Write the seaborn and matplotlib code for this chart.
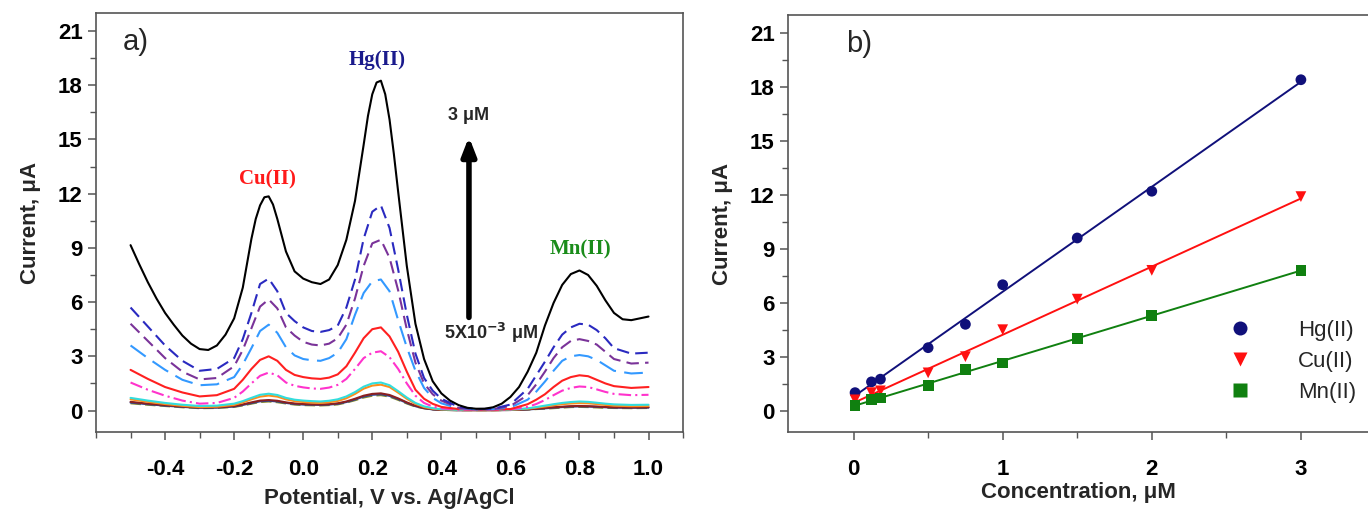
import numpy as np
import pandas as pd
import matplotlib
matplotlib.use("Agg")
import matplotlib.pyplot as plt
from matplotlib.ticker import MultipleLocator
import seaborn as sns

# ---------------- data: panel a (voltammograms) ----------------
# potential grid shared by the lower curves
potential = [-0.5, -0.45, -0.4, -0.35, -0.3, -0.25, -0.2, -0.175, -0.15, -0.125,
             -0.1, -0.075, -0.05, -0.025, 0.0, 0.025, 0.05, 0.075, 0.1, 0.125,
             0.15, 0.175, 0.2, 0.225, 0.25, 0.275, 0.3, 0.325, 0.35, 0.375,
             0.4, 0.45, 0.5, 0.55, 0.6, 0.65, 0.675, 0.7, 0.725, 0.75,
             0.775, 0.8, 0.825, 0.85, 0.875, 0.9, 0.95, 1.0]

# finer reading of the top (3 uM) curve
potential_3uM = [-0.5, -0.475, -0.45, -0.425, -0.4, -0.375, -0.35, -0.325, -0.3, -0.275,
                 -0.25, -0.225, -0.2, -0.175, -0.15, -0.1375, -0.125, -0.1125, -0.1, -0.0875,
                 -0.075, -0.0625, -0.05, -0.025, 0.0, 0.025, 0.05, 0.075, 0.1, 0.125,
                 0.15, 0.175, 0.1875, 0.2, 0.2125, 0.225, 0.2375, 0.25, 0.2625, 0.275,
                 0.3, 0.325, 0.35, 0.375, 0.4, 0.425, 0.45, 0.475, 0.5, 0.525,
                 0.55, 0.575, 0.6, 0.625, 0.65, 0.675, 0.7, 0.725, 0.75, 0.775,
                 0.8, 0.825, 0.85, 0.875, 0.9, 0.925, 0.95, 0.975, 1.0]
i_3uM = [9.15, 8.1, 7.1, 6.2, 5.4, 4.75, 4.15, 3.7, 3.4, 3.35,
         3.6, 4.2, 5.1, 6.8, 9.5, 10.6, 11.35, 11.8, 11.85, 11.4,
         10.6, 9.7, 8.8, 7.7, 7.3, 7.1, 7.0, 7.25, 8.05, 9.45,
         11.6, 14.7, 16.3, 17.5, 18.15, 18.25, 17.5, 16.1, 14.2, 12.1,
         8.0, 4.8, 2.85, 1.62, 0.95, 0.55, 0.3, 0.15, 0.1, 0.1,
         0.18, 0.38, 0.75, 1.3, 2.15, 3.2, 4.7, 5.95, 6.95, 7.55,
         7.75, 7.5, 6.9, 6.1, 5.4, 5.05, 5.0, 5.1, 5.2]

i_2uM = [5.7, 4.65, 3.6, 2.75, 2.2, 2.3, 2.9, 3.95, 5.4, 7.0,
         7.3, 6.6, 5.4, 4.95, 4.6, 4.4, 4.35, 4.45, 4.7, 5.7,
         7.25, 9.5, 11.0, 11.35, 10.1, 7.8, 5.3, 3.15, 1.8, 1.1,
         0.65, 0.2, 0.08, 0.1, 0.33, 1.2, 1.95, 2.7, 3.5, 4.2,
         4.6, 4.8, 4.75, 4.45, 4.0, 3.45, 3.15, 3.2]
i_1p5uM = [4.8, 3.85, 2.9, 2.15, 1.72, 1.8, 2.45, 3.35, 4.55, 5.75,
           6.15, 5.65, 4.6, 4.15, 3.8, 3.65, 3.6, 3.7, 4.0, 4.75,
           6.2, 8.0, 9.25, 9.45, 8.45, 6.65, 4.5, 2.65, 1.5, 0.9,
           0.55, 0.15, 0.07, 0.08, 0.25, 0.85, 1.45, 2.15, 2.9, 3.5,
           3.85, 3.95, 3.85, 3.65, 3.25, 2.85, 2.6, 2.65]
i_1uM = [3.6, 2.9, 2.25, 1.7, 1.4, 1.45, 1.85, 2.55, 3.45, 4.4,
         4.75, 4.3, 3.5, 3.05, 2.85, 2.78, 2.75, 2.9, 3.2, 3.95,
         5.3, 6.5, 7.15, 7.25, 6.6, 5.0, 3.5, 2.2, 1.25, 0.7,
         0.4, 0.12, 0.06, 0.07, 0.17, 0.6, 1.05, 1.6, 2.2, 2.75,
         3.0, 3.07, 3.0, 2.8, 2.5, 2.2, 2.05, 2.1]
i_0p75uM = [2.25, 1.75, 1.3, 1.0, 0.78, 0.85, 1.2, 1.7, 2.3, 2.8,
            3.0, 2.75, 2.25, 1.97, 1.85, 1.78, 1.75, 1.82, 2.0, 2.45,
            3.2, 4.0, 4.5, 4.6, 4.1, 3.25, 2.15, 1.15, 0.65, 0.37,
            0.2, 0.08, 0.05, 0.05, 0.08, 0.35, 0.6, 0.9, 1.3, 1.65,
            1.85, 1.95, 1.9, 1.7, 1.5, 1.35, 1.25, 1.3]
i_0p5uM = [1.55, 1.15, 0.82, 0.55, 0.38, 0.42, 0.7, 1.05, 1.5, 1.92,
           2.1, 1.95, 1.55, 1.37, 1.28, 1.22, 1.2, 1.27, 1.42, 1.75,
           2.3, 2.9, 3.2, 3.28, 2.95, 2.3, 1.5, 0.82, 0.42, 0.22,
           0.12, 0.05, 0.04, 0.04, 0.06, 0.2, 0.36, 0.58, 0.85, 1.1,
           1.25, 1.33, 1.3, 1.17, 1.03, 0.92, 0.85, 0.87]
i_0p18uM = [0.7, 0.55, 0.42, 0.32, 0.25, 0.27, 0.38, 0.52, 0.7, 0.87,
            0.93, 0.86, 0.7, 0.6, 0.55, 0.52, 0.5, 0.54, 0.62, 0.78,
            1.02, 1.32, 1.5, 1.55, 1.4, 1.07, 0.72, 0.42, 0.23, 0.13,
            0.07, 0.04, 0.03, 0.03, 0.05, 0.12, 0.19, 0.27, 0.35, 0.42,
            0.47, 0.5, 0.48, 0.43, 0.38, 0.34, 0.31, 0.32]
i_0p125uM = [0.62, 0.48, 0.36, 0.26, 0.19, 0.21, 0.31, 0.45, 0.62, 0.77,
             0.83, 0.77, 0.62, 0.52, 0.47, 0.44, 0.42, 0.46, 0.53, 0.68,
             0.92, 1.21, 1.38, 1.43, 1.3, 0.99, 0.65, 0.37, 0.19, 0.1,
             0.06, 0.03, 0.02, 0.02, 0.04, 0.1, 0.16, 0.22, 0.29, 0.35,
             0.39, 0.41, 0.4, 0.36, 0.31, 0.27, 0.24, 0.25]
i_0p05uM = [0.48, 0.38, 0.3, 0.22, 0.17, 0.18, 0.25, 0.34, 0.45, 0.55,
            0.58, 0.54, 0.45, 0.39, 0.36, 0.34, 0.33, 0.35, 0.4, 0.5,
            0.65, 0.82, 0.92, 0.95, 0.86, 0.67, 0.45, 0.26, 0.14, 0.07,
            0.04, 0.02, 0.02, 0.02, 0.03, 0.07, 0.1, 0.14, 0.18, 0.21,
            0.24, 0.25, 0.24, 0.22, 0.2, 0.18, 0.17, 0.18]
i_0p01uM = [0.44, 0.35, 0.27, 0.2, 0.15, 0.16, 0.22, 0.31, 0.41, 0.51,
            0.54, 0.5, 0.42, 0.36, 0.33, 0.32, 0.31, 0.33, 0.37, 0.47,
            0.61, 0.77, 0.87, 0.9, 0.81, 0.63, 0.42, 0.24, 0.13, 0.06,
            0.04, 0.02, 0.02, 0.02, 0.03, 0.06, 0.09, 0.12, 0.16, 0.19,
            0.22, 0.23, 0.22, 0.2, 0.18, 0.16, 0.15, 0.16]
i_0p005uM = [0.4, 0.32, 0.25, 0.18, 0.13, 0.14, 0.2, 0.28, 0.38, 0.47,
             0.5, 0.46, 0.39, 0.33, 0.3, 0.29, 0.28, 0.3, 0.34, 0.44,
             0.57, 0.72, 0.82, 0.85, 0.77, 0.59, 0.39, 0.22, 0.12, 0.06,
             0.03, 0.02, 0.02, 0.02, 0.03, 0.05, 0.08, 0.1, 0.13, 0.16,
             0.19, 0.2, 0.19, 0.17, 0.15, 0.14, 0.13, 0.14]

curve_names = ["0.005", "0.01", "0.05", "0.125", "0.18", "0.5", "0.75", "1", "1.5", "2", "3"]
curve_values = [i_0p005uM, i_0p01uM, i_0p05uM, i_0p125uM, i_0p18uM, i_0p5uM,
                i_0p75uM, i_1uM, i_1p5uM, i_2uM, i_3uM]
curve_potentials = [potential] * 10 + [potential_3uM]
curve_colors = ["#8c8c20", "#2a4a9a", "#8b2020", "#ff8c1a", "#33dddd", "#ff33cc",
                "#ff2020", "#3399ff", "#7a3399", "#2a2ac0", "#000000"]
curve_dashes = [(5, 2), "", "", "", "", (6, 2, 1, 2), "", (9, 4), (6, 3), (6, 3), ""]

# ---------------- data: panel b (calibration) ----------------
conc = [0.01, 0.12, 0.18, 0.5, 0.75, 1.0, 1.5, 2.0, 3.0]
hg_current = [1.0, 1.6, 1.75, 3.5, 4.8, 7.0, 9.6, 12.2, 18.4]
cu_current = [0.6, 1.0, 1.1, 2.1, 3.0, 4.5, 6.2, 7.8, 11.9]
mn_current = [0.3, 0.6, 0.7, 1.4, 2.3, 2.65, 4.0, 5.3, 7.8]
ion_labels = ["Hg(II)", "Cu(II)", "Mn(II)"]

# ---------------- style ----------------
sns.set_theme(style="ticks")
plt.rcParams["font.family"] = ["Liberation Sans", "DejaVu Sans"]
plt.rcParams["axes.edgecolor"] = "#555555"
plt.rcParams["axes.linewidth"] = 1.2
plt.rcParams["xtick.color"] = "#555555"
plt.rcParams["ytick.color"] = "#555555"
plt.rcParams["xtick.labelcolor"] = "black"
plt.rcParams["ytick.labelcolor"] = "black"

fig = plt.figure(figsize=(13.68, 5.17), dpi=100)
ax1 = fig.add_axes([0.0702, 0.164, 0.4291, 0.811])
ax2 = fig.add_axes([0.576, 0.164, 0.424, 0.807])

# ---------------- panel a ----------------
rows = []
for name, pots, vals in zip(curve_names, curve_potentials, curve_values):
    assert len(vals) == len(pots), name
    for v, c in zip(pots, vals):
        rows.append((name, v, c))
df_a = pd.DataFrame(rows, columns=["curve", "potential", "current"])

sns.lineplot(data=df_a, x="potential", y="current", hue="curve", style="curve",
             hue_order=curve_names, style_order=curve_names,
             palette=dict(zip(curve_names, curve_colors)),
             dashes=dict(zip(curve_names, curve_dashes)),
             sort=False, legend=False, linewidth=1.5, ax=ax1)
for ln in ax1.get_lines():
    ln.set_solid_joinstyle("round")
    ln.set_dash_joinstyle("round")

ax1.set_xlim(-0.6, 1.1)
ax1.set_ylim(-1.2, 22)
ax1.xaxis.set_minor_locator(MultipleLocator(0.1))
ax1.yaxis.set_major_locator(MultipleLocator(3))
ax1.yaxis.set_minor_locator(MultipleLocator(1.5))
xt = [-0.4, -0.2, 0.0, 0.2, 0.4, 0.6, 0.8, 1.0]
ax1.set_xticks(xt)
ax1.set_xticklabels([f"{t:.1f}" for t in xt])
ax1.set_xlabel("Potential, V vs. Ag/AgCl", fontsize=16, fontweight="bold", labelpad=6)
ax1.set_ylabel("Current, μA", fontsize=16, fontweight="bold", labelpad=12)
ax1.text(0.045, 0.93, "a)", transform=ax1.transAxes, fontsize=21, va="center")

serif = ["Liberation Serif", "DejaVu Serif"]
ax1.text(0.215, 19.4, "Hg(II)", color="#1a1a8c", fontsize=15, fontweight="bold",
         family=serif, ha="center", va="center")
ax1.text(-0.103, 12.8, "Cu(II)", color="#ff1a1a", fontsize=15, fontweight="bold",
         family=serif, ha="center", va="center")
ax1.text(0.803, 8.9, "Mn(II)", color="#1a8c1a", fontsize=15, fontweight="bold",
         family=serif, ha="center", va="center")
ax1.annotate("", xy=(0.48, 15.3), xytext=(0.48, 5.0),
             arrowprops=dict(arrowstyle="-|>,head_length=0.9,head_width=0.35",
                             color="black", lw=4))
ax1.text(0.48, 16.3, "3 μM", fontsize=13, fontweight="bold", ha="center", va="center")
ax1.text(0.545, 4.3, r"5X10$^{\mathbf{-3}}$ μM", fontsize=13, fontweight="bold",
         ha="center", va="center")

# ---------------- panel b ----------------
df_b = pd.DataFrame({
    "conc": conc * 3,
    "current": hg_current + cu_current + mn_current,
    "ion": sum([[lab] * len(conc) for lab in ion_labels], []),
})
ion_colors = {"Hg(II)": "#10107a", "Cu(II)": "#ff1010", "Mn(II)": "#108010"}
ion_markers = {"Hg(II)": "o", "Cu(II)": "v", "Mn(II)": "s"}

for lab in ion_labels:
    sub = df_b[df_b["ion"] == lab]
    sns.regplot(data=sub, x="conc", y="current", scatter=False, ci=None,
                color=ion_colors[lab], line_kws=dict(lw=1.4), truncate=True, ax=ax2)
sns.scatterplot(data=df_b, x="conc", y="current", hue="ion", style="ion",
                hue_order=ion_labels, style_order=ion_labels,
                palette=ion_colors, markers=ion_markers, s=60, edgecolor="none",
                ax=ax2, zorder=3)

ax2.set_xlim(-0.44, 3.45)
ax2.set_ylim(-1.2, 22)
ax2.xaxis.set_major_locator(MultipleLocator(1))
ax2.xaxis.set_minor_locator(MultipleLocator(0.5))
ax2.yaxis.set_major_locator(MultipleLocator(3))
ax2.yaxis.set_minor_locator(MultipleLocator(1.5))
ax2.spines["right"].set_visible(False)
ax2.set_xlabel("Concentration, μM", fontsize=16, fontweight="bold", labelpad=2)
ax2.set_ylabel("Current, μA", fontsize=16, fontweight="bold", labelpad=12)
ax2.text(0.1, 0.93, "b)", transform=ax2.transAxes, fontsize=21, va="center")

handles, labels = ax2.get_legend_handles_labels()
leg = ax2.legend(handles, labels, loc="center", bbox_to_anchor=(0.86, 0.17),
                 frameon=False, fontsize=16, handletextpad=1.6, labelspacing=0.45,
                 markerscale=1.3)

for ax in (ax1, ax2):
    ax.tick_params(axis="both", which="major", length=6, width=1.1, labelsize=16,
                   direction="out")
    ax.tick_params(axis="both", which="minor", length=4, width=1.0, direction="out")
    for lbl in ax.get_xticklabels() + ax.get_yticklabels():
        lbl.set_fontweight("bold")
ax1.tick_params(axis="x", which="major", pad=13)
ax2.tick_params(axis="x", which="major", pad=13)

fig.savefig("out.png", dpi=100)
